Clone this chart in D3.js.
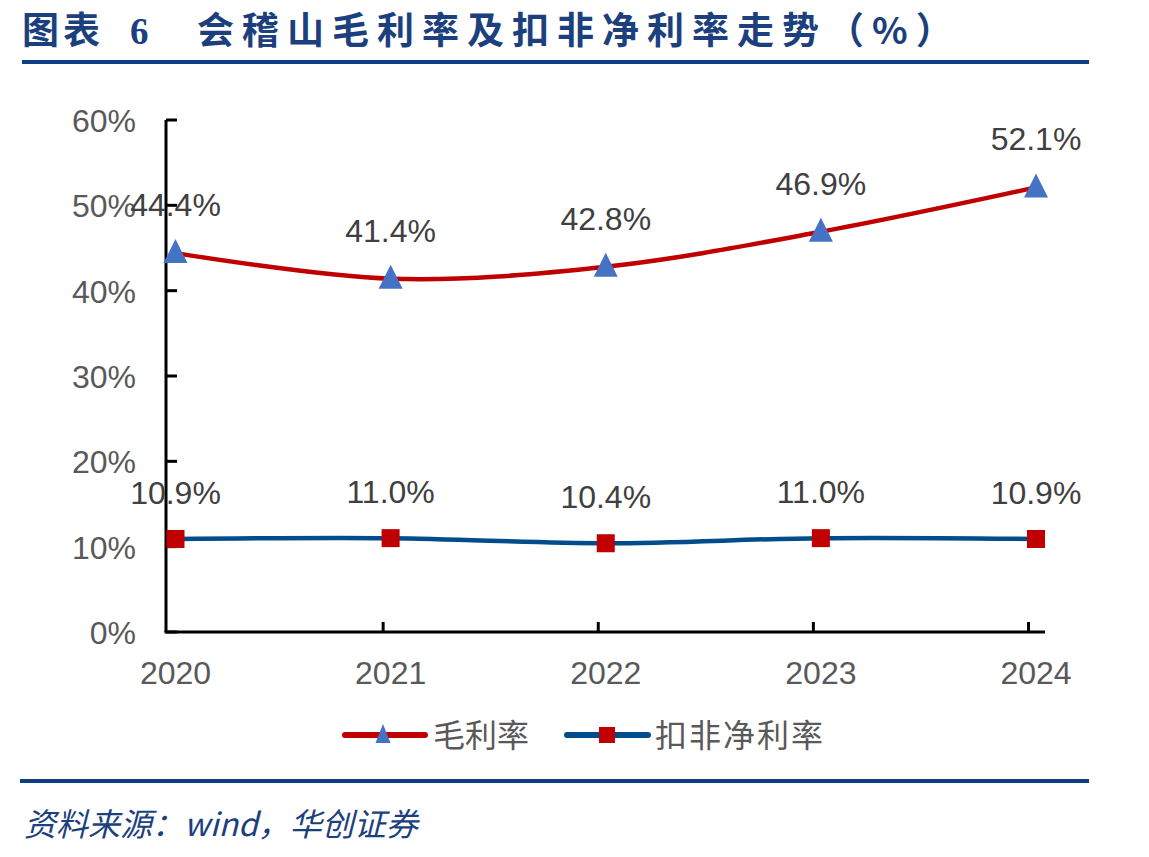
<!DOCTYPE html>
<html><head><meta charset="utf-8">
<script src="https://cdn.jsdelivr.net/npm/d3@7"></script>
<style>body{margin:0;background:#fff}svg{display:block}</style>
</head><body>
<svg id="c" width="1149" height="857"></svg>
<script>
const categories = ["2020","2021","2022","2023","2024"];
const grossMargin = [44.4, 41.4, 42.8, 46.9, 52.1];
const netMargin = [10.9, 11.0, 10.4, 11.0, 10.9];
const yTicks = [0,10,20,30,40,50,60];
const seriesNames = ["毛利率","扣非净利率"];
const titleParts = ["图表", "6", "会稽山毛利率及扣非净利率走势（%）"];
const sourceText = "资料来源：wind，华创证券";

const svg = d3.select("#c");
const navy = "#1C3F7E";
const red = "#C00000", blue = "#004C8C", tri = "#4472C4";
const axisFont = "'Liberation Sans', Arial, sans-serif";
const cjk = "'Noto Sans CJK SC', sans-serif";

// title
const tAttr = s => s.attr("y",44).attr("fill",navy).attr("font-family",cjk).attr("font-weight","bold").attr("font-size",37);
tAttr(svg.append("text").attr("x",22).attr("letter-spacing",4)).text(titleParts[0]);
tAttr(svg.append("text").attr("x",130).attr("font-family","'Liberation Serif', serif")).attr("font-family","'Liberation Serif', serif").text(titleParts[1]);
tAttr(svg.append("text").attr("x",197).attr("letter-spacing",8)).text(titleParts[2]);
svg.append("rect").attr("x",22).attr("y",60).attr("width",1067).attr("height",4).attr("fill","#0E3F85");
svg.append("rect").attr("x",20).attr("y",779).attr("width",1069).attr("height",4).attr("fill","#0E3F85");
svg.append("text").attr("x",24).attr("y",836).attr("fill",navy)
  .attr("font-family",cjk).attr("font-style","italic").attr("font-size",32).text(sourceText);

const x = d3.scalePoint().domain(categories).range([175.5,1036]);
const y = d3.scaleLinear().domain([0,60]).range([632,120]);
const axisX0 = 166, axisX1 = 1045;

const g = svg.append("g");
// y axis
g.append("line").attr("x1",axisX0).attr("x2",axisX0).attr("y1",y(60)).attr("y2",y(0))
  .attr("stroke","#000").attr("stroke-width",3);
yTicks.forEach(t=>{
  g.append("line").attr("x1",axisX0).attr("x2",axisX0+11).attr("y1",y(t)).attr("y2",y(t))
   .attr("stroke","#000").attr("stroke-width",3);
  g.append("text").attr("x",136).attr("y",y(t)+12).attr("text-anchor","end")
   .attr("font-family",axisFont).attr("font-size",32).attr("fill","#595959").text(t+"%");
});
// x axis
g.append("line").attr("x1",axisX0-1.5).attr("x2",axisX1).attr("y1",y(0)).attr("y2",y(0))
  .attr("stroke","#000").attr("stroke-width",3);
categories.forEach((c,i)=>{
  if(i>0){
    g.append("line").attr("x1",x(c)-7.5).attr("x2",x(c)-7.5).attr("y1",y(0)).attr("y2",y(0)-10)
     .attr("stroke","#000").attr("stroke-width",3);
  }
  g.append("text").attr("x",x(c)).attr("y",684).attr("text-anchor","middle")
   .attr("font-family",axisFont).attr("font-size",32).attr("fill","#595959").text(c);
});

const line = d3.line().x((d,i)=>x(categories[i])).y(d=>y(d)).curve(d3.curveCardinal.tension(0));
g.append("path").attr("d",line(grossMargin)).attr("fill","none").attr("stroke",red).attr("stroke-width",4.5);
g.append("path").attr("d",line(netMargin)).attr("fill","none").attr("stroke",blue).attr("stroke-width",4.5);

const triPath = (cx,cy)=>`M${cx},${cy-14}L${cx+12},${cy+10}L${cx-12},${cy+10}Z`;
grossMargin.forEach((v,i)=>{
  const cx=x(categories[i]), cy=y(v);
  g.append("path").attr("d",triPath(cx,cy)).attr("fill",tri);
  g.append("text").attr("x",cx).attr("y",cy-37).attr("text-anchor","middle")
   .attr("font-family",axisFont).attr("font-size",32).attr("fill","#404040").text(v.toFixed(1)+"%");
});
netMargin.forEach((v,i)=>{
  const cx=x(categories[i]), cy=y(v);
  g.append("rect").attr("x",cx-9).attr("y",cy-9).attr("width",18).attr("height",18).attr("fill",red);
  g.append("text").attr("x",cx).attr("y",cy-35).attr("text-anchor","middle")
   .attr("font-family",axisFont).attr("font-size",32).attr("fill","#404040").text(v.toFixed(1)+"%");
});

// legend
const ly = 735;
const lg = svg.append("g");
lg.append("line").attr("x1",345).attr("x2",425).attr("y1",ly).attr("y2",ly).attr("stroke",red).attr("stroke-width",6).attr("stroke-linecap","round");
lg.append("path").attr("d",`M383,${ly-11}L390.5,${ly+8}L375.5,${ly+8}Z`).attr("fill",tri);
lg.append("text").attr("x",433).attr("y",ly+12).attr("font-family",cjk).attr("font-size",32).attr("fill","#595959").text(seriesNames[0]);
lg.append("line").attr("x1",567).attr("x2",648).attr("y1",ly).attr("y2",ly).attr("stroke",blue).attr("stroke-width",6).attr("stroke-linecap","round");
lg.append("rect").attr("x",599).attr("y",ly-8).attr("width",16).attr("height",16).attr("fill",red);
lg.append("text").attr("x",655).attr("y",ly+12).attr("font-family",cjk).attr("font-size",32).attr("letter-spacing",2).attr("fill","#595959").text(seriesNames[1]);
</script>
</body></html>
